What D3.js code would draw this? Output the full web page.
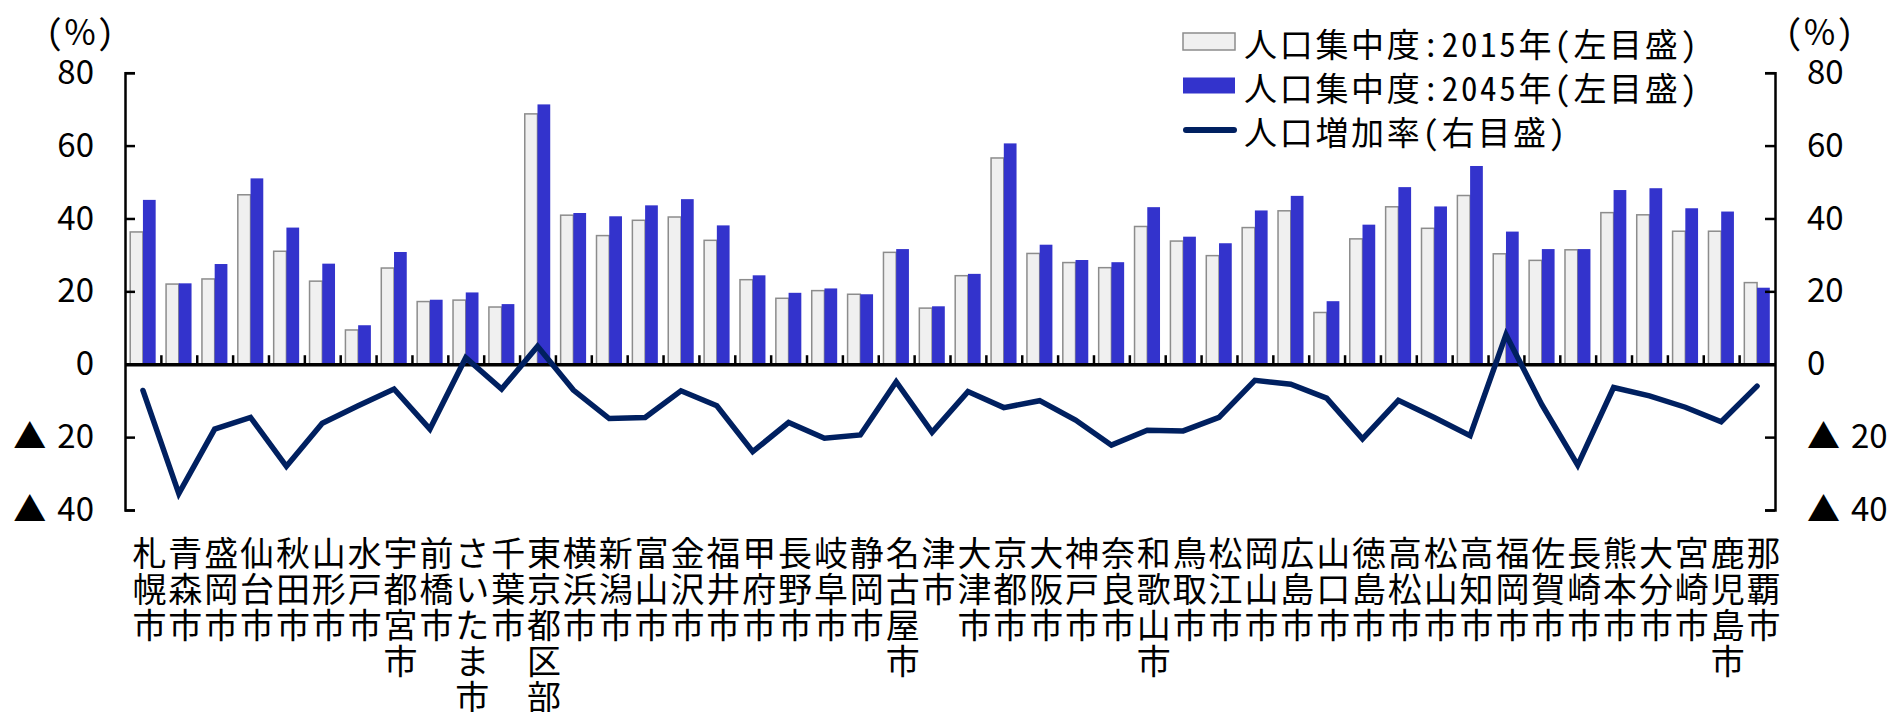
<!DOCTYPE html>
<html lang="ja">
<head>
<meta charset="utf-8">
<script src="https://cdn.jsdelivr.net/npm/d3@7/dist/d3.min.js"></script>
<style>
  html, body { margin: 0; padding: 0; background: #fff; }
  svg { display: block; }
</style>
</head>
<body>
<svg id="chart" width="1891" height="712"></svg>
<script>
// 県庁所在市（政令市等）別の人口集中度と人口増加率
const cities = [
  "札幌市","青森市","盛岡市","仙台市","秋田市","山形市","水戸市","宇都宮市","前橋市","さいたま市",
  "千葉市","東京都区部","横浜市","新潟市","富山市","金沢市","福井市","甲府市","長野市","岐阜市",
  "静岡市","名古屋市","津市","大津市","京都市","大阪市","神戸市","奈良市","和歌山市","鳥取市",
  "松江市","岡山市","広島市","山口市","徳島市","高松市","松山市","高知市","福岡市","佐賀市",
  "長崎市","熊本市","大分市","宮崎市","鹿児島市","那覇市"
];

// 人口集中度：2015年（%）
const share2015 = [
  36.3, 22.0, 23.4, 46.5, 31.0, 22.8, 9.4, 26.4, 17.2, 17.6,
  15.7, 68.7, 40.9, 35.3, 39.5, 40.4, 34.0, 23.2, 18.1, 20.2,
  19.2, 30.7, 15.4, 24.3, 56.6, 30.4, 27.9, 26.5, 37.8, 33.8,
  29.8, 37.5, 42.1, 14.2, 34.4, 43.2, 37.3, 46.3, 30.3, 28.5,
  31.4, 41.6, 41.0, 36.5, 36.5, 22.4
];

// 人口集中度：2045年（%）
const share2045 = [
  45.1, 22.2, 27.5, 51.0, 37.5, 27.6, 10.7, 30.8, 17.7, 19.7,
  16.5, 71.3, 41.5, 40.6, 43.6, 45.3, 38.1, 24.4, 19.6, 20.8,
  19.2, 31.6, 15.9, 24.8, 60.6, 32.8, 28.6, 28.0, 43.1, 35.0,
  33.2, 42.2, 46.2, 17.3, 38.3, 48.6, 43.3, 54.4, 36.4, 31.6,
  31.6, 47.8, 48.3, 42.8, 41.9, 21.0
];

// 人口増加率（%）
const growth = [
  -7.2, -35.5, -17.8, -14.6, -28.0, -16.2, -11.4, -6.8, -17.8, 1.8,
  -6.8, 4.9, -7.1, -14.9, -14.6, -7.3, -11.4, -24.0, -16.0, -20.3,
  -19.4, -4.8, -18.7, -7.5, -11.9, -10.0, -15.3, -22.2, -18.1, -18.3,
  -14.6, -4.4, -5.5, -9.3, -20.5, -9.9, -14.6, -19.6, 8.1, -11.1,
  -27.7, -6.4, -8.7, -11.8, -15.8, -6.0
];

// 目盛（左右共通）
const yTicks = [80, 60, 40, 20, 0, -20, -40];
const seriesKeys = ["2015", "2045"];
const legendLabels = ["人口集中度:2015年(左目盛)", "人口集中度:2045年(左目盛)", "人口増加率(右目盛)"];

const COL_2015 = "#f0f0f0", EDGE_2015 = "#8c8c8c", COL_2045 = "#3333cc", COL_LINE = "#002060";
const JP = "'Noto Sans CJK JP', 'Noto Sans', sans-serif";
const JP_MONO = "'Noto Sans Mono CJK JP', 'Noto Sans CJK JP', sans-serif";

const svg = d3.select("#chart");
const left = 125, right = 1775;

const y = d3.scaleLinear().domain([-40, 80]).range([510, 72.7]);
const x = d3.scaleBand().domain(cities).range([left, right]).paddingInner(0.29).paddingOuter(0.145);
const xs = d3.scaleBand().domain(seriesKeys).range([0, x.bandwidth()]);
const xi = d3.scaleLinear().domain([0, cities.length]).range([left, right]);

const rows = cities.map((c, i) => ({ city: c, v2015: share2015[i], v2045: share2045[i], g: growth[i] }));

// 棒：2015年
svg.append("g").selectAll("rect").data(rows).join("rect")
  .attr("x", d => x(d.city) + xs("2015"))
  .attr("y", d => y(d.v2015))
  .attr("width", xs.bandwidth())
  .attr("height", d => y(0) - y(d.v2015))
  .attr("fill", COL_2015)
  .attr("stroke", EDGE_2015)
  .attr("stroke-width", 1.5);

// 棒：2045年
svg.append("g").selectAll("rect").data(rows).join("rect")
  .attr("x", d => x(d.city) + xs("2045"))
  .attr("y", d => y(d.v2045))
  .attr("width", xs.bandwidth())
  .attr("height", d => y(0) - y(d.v2045))
  .attr("fill", COL_2045);

// 目盛ラベル：負値は▲表記
const fmt = d => d < 0 ? "▲\u2004" + (-d) : String(d);

const yl = svg.append("g").attr("transform", `translate(${left},0)`)
  .call(d3.axisLeft(y).tickValues(yTicks).tickSize(-10).tickPadding(31).tickFormat(fmt));
const yr = svg.append("g").attr("transform", `translate(${right},0)`)
  .call(d3.axisRight(y).tickValues(yTicks).tickSize(-10).tickPadding(32).tickFormat(fmt));
[yl, yr].forEach(g => {
  g.select(".domain").attr("stroke", "#000").attr("stroke-width", 2.5);
  g.selectAll(".tick line").attr("stroke", "#000").attr("stroke-width", 2.5);
  g.selectAll(".tick text").attr("font-family", JP).attr("font-size", 33).attr("fill", "#000");
});

// 横軸（0%線）と区切り目盛
const xa = svg.append("g").attr("transform", `translate(0,${y(0)})`)
  .call(d3.axisBottom(xi).tickValues(d3.range(1, cities.length)).tickSize(-9).tickSizeOuter(0).tickFormat(""));
xa.select(".domain").attr("stroke", "#000").attr("stroke-width", 3.5);
xa.selectAll(".tick line").attr("stroke", "#000").attr("stroke-width", 2.5);

// 折れ線：人口増加率
const line = d3.line().x(d => x(d.city) + x.bandwidth() / 2).y(d => y(d.g));
svg.append("path").datum(rows)
  .attr("d", line)
  .attr("fill", "none")
  .attr("stroke", COL_LINE)
  .attr("stroke-width", 5.5)
  .attr("stroke-linejoin", "miter")
  .attr("stroke-miterlimit", 6)
  .attr("stroke-linecap", "round");

// 都市名（縦書き：一文字ずつ積む）
const chars = rows.flatMap(d => Array.from(d.city).map((ch, k) => ({ city: d.city, ch, k })));
svg.append("g").attr("font-family", JP).attr("font-size", 34).attr("fill", "#000")
  .selectAll("text").data(chars).join("text")
  .attr("x", d => x(d.city) + x.bandwidth() / 2 + 6.5)
  .attr("y", d => 551 + d.k * 36)
  .attr("text-anchor", "middle")
  .attr("dominant-baseline", "central")
  .text(d => d.ch);

// 単位
svg.append("text").attr("x", 80).attr("y", 30).attr("text-anchor", "middle")
  .attr("dominant-baseline", "central").attr("font-family", JP_MONO).attr("font-size", 34).text("(％)");
svg.append("text").attr("x", 1819.5).attr("y", 30).attr("text-anchor", "middle")
  .attr("dominant-baseline", "central").attr("font-family", JP_MONO).attr("font-size", 34).text("(％)");

// 凡例
const lg = svg.append("g");
const rowY = [41.5, 85.5, 130];
lg.append("rect").attr("x", 1183).attr("y", rowY[0] - 8.5).attr("width", 52).attr("height", 17)
  .attr("fill", COL_2015).attr("stroke", EDGE_2015).attr("stroke-width", 1.5);
lg.append("rect").attr("x", 1183).attr("y", rowY[1] - 8).attr("width", 52).attr("height", 16)
  .attr("fill", COL_2045);
lg.append("line").attr("x1", 1186).attr("x2", 1234).attr("y1", rowY[2]).attr("y2", rowY[2])
  .attr("stroke", COL_LINE).attr("stroke-width", 6).attr("stroke-linecap", "round");
lg.selectAll("text").data(legendLabels).join("text")
  .attr("x", 1244)
  .attr("y", (d, i) => rowY[i] + 1)
  .attr("dominant-baseline", "central")
  .attr("font-family", JP_MONO)
  .attr("font-size", 33)
  .attr("letter-spacing", 2.7)
  .attr("fill", "#000")
  .text(d => d);
</script>
</body>
</html>
